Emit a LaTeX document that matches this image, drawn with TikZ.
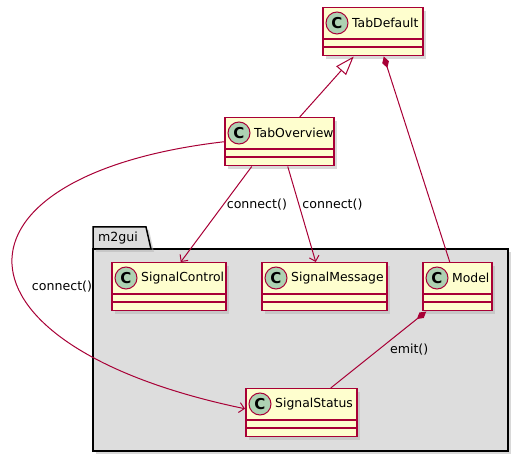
\documentclass[tikz,border=0pt]{standalone}
\usepackage{fontspec}
\setmainfont{DejaVu Sans}
\usetikzlibrary{arrows.meta,shadows}

\definecolor{umlred}{HTML}{A80036}
\definecolor{classfill}{HTML}{FEFECE}
\definecolor{circfill}{HTML}{ADD1B2}
\definecolor{pkgfill}{HTML}{DDDDDD}

\begin{document}
\begin{tikzpicture}[x=1pt, y=-1pt, font=\fontsize{12.4}{14}\selectfont]
    \useasboundingbox (0,0) rectangle (523,457);

    % Styles
    \tikzset{
      umlshadow/.style = {drop shadow={shadow xshift=3pt, shadow yshift=-3pt, fill=black!30}},
      classbox/.style  = {rectangle, draw=umlred, fill=classfill, line width=1.5pt,
                          minimum height=48pt, inner sep=0pt, umlshadow},
      circC/.style     = {circle, draw=umlred, fill=circfill, line width=1pt,
                          minimum size=22pt, inner sep=0pt, font=\fontsize{15}{15}\selectfont\bfseries},
      pkgbox/.style    = {draw=black, fill=pkgfill, line width=1.5pt, umlshadow},
      lbl/.style       = {font=\fontsize{12.6}{14}\selectfont, inner sep=3pt},
      EdgeStyle/.style = {draw=umlred, line width=1pt}
    }

    % Package
    \draw[pkgbox] (93,249) rectangle (508,451);
    \draw[pkgbox] (93,249) -- (93,227) -- (146,227) -- (151,249) -- cycle;
    \node[lbl, anchor=west] (pkgname) at (95,238) {m2gui};

    % Classes
    \foreach \name/\x/\y/\w/\txt in {tabdefault/322/7/100/TabDefault,
                                     taboverview/224/117/109/TabOverview,
                                     sigcontrol/111/262/114/SignalControl,
                                     sigmessage/261/262/125/SignalMessage,
                                     model/422/262/69/Model,
                                     sigstatus/245/388/111/SignalStatus}{
      \node[classbox, minimum width=\w pt, anchor=north west] (\name) at (\x,\y) {};
      \draw[umlred, line width=1.5pt]
        ([yshift=-32pt]\name.north west) -- ([yshift=-32pt]\name.north east)
        ([yshift=-40pt]\name.north west) -- ([yshift=-40pt]\name.north east);
      \node[circC] at ([xshift=15pt, yshift=-16pt]\name.north west) {C};
      \node[anchor=west, inner sep=0pt] at ([xshift=30pt, yshift=-16pt]\name.north west) {\txt};
    }

    % Edges
    \draw[EdgeStyle, {Triangle[open, length=19pt, width=13pt, fill=white]}-]
      ([xshift=-19pt]tabdefault.south) -- ([xshift=20.5pt]taboverview.north);
    \draw[EdgeStyle, {Diamond[length=12pt, width=7pt]}-]
      ([xshift=11pt]tabdefault.south) -- ([xshift=-7.5pt]model.north);

    \draw[EdgeStyle, -{Straight Barb[length=5pt, width=10pt]}]
      ([xshift=-27.5pt]taboverview.south) -- ([xshift=12pt]sigcontrol.north)
      node[lbl, pos=0.4, anchor=west] (lconn1) {connect()};
    \draw[EdgeStyle, -{Straight Barb[length=5pt, width=10pt]}]
      ([xshift=8.5pt]taboverview.south) -- ([xshift=-8.5pt]sigmessage.north)
      node[lbl, pos=0.4, anchor=west] (lconn2) {connect()};
    \draw[EdgeStyle, -{Straight Barb[length=5pt, width=10pt]}]
      (taboverview.west) .. controls (-62,175) and (-62,345) .. ([yshift=4pt]sigstatus.west);
    \node[lbl] (lconn3) at (62,287) {connect()};

    \draw[EdgeStyle, {Diamond[length=12pt, width=7pt]}-]
      ([xshift=-31pt]model.south) -- ([xshift=29.5pt]sigstatus.north)
      node[lbl, pos=0.5, anchor=west, xshift=8pt] (lemit) {emit()};

\end{tikzpicture}
\end{document}
